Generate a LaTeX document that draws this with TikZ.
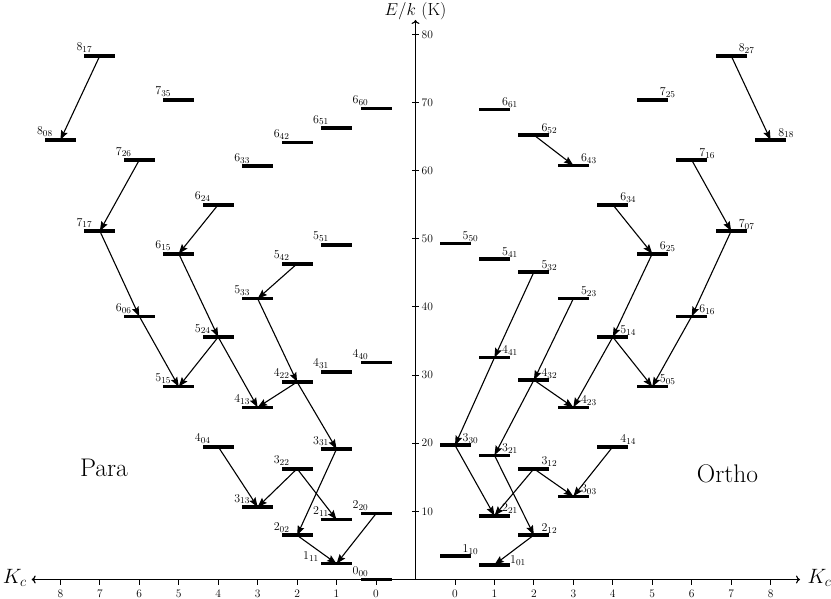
\documentclass[tikz,border=0pt]{standalone}
\usetikzlibrary{arrows.meta}
\DeclareMathSizes{12}{12}{9}{7}
\tikzset{
  bar/.style={draw=none, fill=black, minimum width=31pt, minimum height=3.6pt, inner sep=0pt, outer sep=0pt},
  lab/.style={anchor=base, inner sep=0pt, font=\fontsize{12}{14}\selectfont},
  trans/.style={line width=1.1pt, -{Stealth[length=9.5pt,width=7pt,inset=1.5pt]}},
  axis/.style={line width=1.2pt},
  axtip/.style={axis, -{To[length=4pt,width=8pt]}},
  tick/.style={line width=1pt},
  ticklab/.style={inner sep=0pt, font=\fontsize{11.5}{13}\selectfont},
}
% left (para) level: name, Kc, E, label
\newcommand\levL[4]{%
  \node[bar] (#1) at ({376-39.45*#2},{579.5-6.813*#3}) {};
  \node[lab] (#1l) at ([yshift=5pt]#1.west) {$#4$};}
% right (ortho) level
\newcommand\levR[4]{%
  \node[bar] (#1) at ({455+39.45*#2},{579.5-6.813*#3}) {};
  \node[lab] (#1l) at ([yshift=3.8pt]#1.east) {$#4$};}
\begin{document}
\begin{tikzpicture}[x=1pt,y=-1pt]
\useasboundingbox (0,0) rectangle (831,599);
% axes
\coordinate (O) at (415.5,579.5);
\coordinate (ytip) at (415.5,20);
\coordinate (xl) at (31.7,579.5);
\coordinate (xr) at (800,579.5);
\draw[axtip] (O) -- (ytip);
\draw[axis, {To[length=4pt,width=8pt]}-{To[length=4pt,width=8pt]}] (xl) -- (xr);
\node[anchor=base, font=\fontsize{17.5}{20}\selectfont] (elab) at (415.5,15.7) {$E/k$ (K)};
\node[anchor=base west, inner sep=0pt, font=\fontsize{19.5}{22}\selectfont] (kcl) at (2.7,583.3) {$K_c$};
\node[anchor=base west, inner sep=0pt, font=\fontsize{19.5}{22}\selectfont] (kcr) at (807.3,583.3) {$K_c$};
% energy ticks
\foreach \k in {1,...,8}{
  \coordinate (ea\k) at (412.2,{579.5-68.13*\k});
  \coordinate (eb\k) at (418.8,{579.5-68.13*\k});
  \draw[tick] (ea\k) -- (eb\k);
  \node[ticklab, anchor=west] (et\k) at (421.5,{579.5-68.13*\k}) {\the\numexpr\k*10\relax};
}
% Kc ticks
\foreach \k in {0,...,8}{
  \coordinate (la\k) at ({376-39.45*\k},579.5);
  \coordinate (lb\k) at ({376-39.45*\k},585);
  \draw[tick] (la\k) -- (lb\k);
  \node[ticklab, anchor=north] (lt\k) at ({376-39.45*\k},589.5) {\k};
  \coordinate (ra\k) at ({455+39.45*\k},579.5);
  \coordinate (rb\k) at ({455+39.45*\k},585);
  \draw[tick] (ra\k) -- (rb\k);
  \node[ticklab, anchor=north] (rt\k) at ({455+39.45*\k},589.5) {\k};
}
% para levels
\levL{p000}{0}{0}{0_{00}}
\node[bar] (p111) at ({376-39.45*1},{579.5-6.813*2.32}) {};
\node[lab] (p111l) at ([xshift=-10pt,yshift=3.7pt]p111.west) {$1_{11}$};
\levL{p202}{2}{6.49}{2_{02}}
\levL{p211}{1}{8.78}{2_{11}}
\levL{p220}{0}{9.66}{2_{20}}
\levL{p313}{3}{10.64}{3_{13}}
\levL{p322}{2}{16.26}{3_{22}}
\levL{p331}{1}{19.15}{3_{31}}
\levL{p404}{4}{19.49}{4_{04}}
\levL{p413}{3}{25.27}{4_{13}}
\levL{p422}{2}{28.99}{4_{22}}
\levL{p431}{1}{30.46}{4_{31}}
\levL{p440}{0}{31.88}{4_{40}}
\levL{p515}{5}{28.30}{5_{15}}
\levL{p524}{4}{35.59}{5_{24}}
\levL{p533}{3}{41.22}{5_{33}}
\levL{p542}{2}{46.35}{5_{42}}
\levL{p551}{1}{49.10}{5_{51}}
\levL{p606}{6}{38.63}{6_{06}}
\levL{p615}{5}{47.82}{6_{15}}
\levL{p624}{4}{55.01}{6_{24}}
\levL{p633}{3}{60.65}{6_{33}}
\levL{p642}{2}{64.17}{6_{42}}
\levL{p651}{1}{66.27}{6_{51}}
\levL{p660}{0}{69.16}{6_{60}}
\levL{p717}{7}{51.15}{7_{17}}
\levL{p726}{6}{61.57}{7_{26}}
\levL{p735}{5}{70.42}{7_{35}}
\levL{p808}{8}{64.51}{8_{08}}
\levL{p817}{7}{76.88}{8_{17}}
% ortho levels
\node[bar] (o101) at ({455+39.45*1},{579.5-6.813*2.17}) {};
\node[lab, anchor=base west] (o101l) at ([yshift=1.4pt]o101.east) {$1_{01}$};
\levR{o110}{0}{3.41}{1_{10}}
\levR{o212}{2}{6.53}{2_{12}}
\levR{o221}{1}{9.36}{2_{21}}
\levR{o303}{3}{12.21}{3_{03}}
\levR{o312}{2}{16.26}{3_{12}}
\levR{o321}{1}{18.23}{3_{21}}
\levR{o330}{0}{19.70}{3_{30}}
\levR{o414}{4}{19.49}{4_{14}}
\levR{o423}{3}{25.27}{4_{23}}
\levR{o432}{2}{29.28}{4_{32}}
\levR{o441}{1}{32.56}{4_{41}}
\levR{o505}{5}{28.30}{5_{05}}
\levR{o514}{4}{35.59}{5_{14}}
\levR{o523}{3}{41.22}{5_{23}}
\levR{o532}{2}{45.13}{5_{32}}
\levR{o541}{1}{47.04}{5_{41}}
\levR{o550}{0}{49.29}{5_{50}}
\levR{o616}{6}{38.63}{6_{16}}
\levR{o625}{5}{47.82}{6_{25}}
\levR{o634}{4}{55.01}{6_{34}}
\levR{o643}{3}{60.79}{6_{43}}
\levR{o652}{2}{65.24}{6_{52}}
\levR{o661}{1}{69.01}{6_{61}}
\levR{o707}{7}{51.15}{7_{07}}
\levR{o716}{6}{61.57}{7_{16}}
\levR{o725}{5}{70.42}{7_{25}}
\levR{o818}{8}{64.51}{8_{18}}
\levR{o827}{7}{76.88}{8_{27}}
% transitions
\foreach \a/\b in {p817/p808, p726/p717, p624/p615, p717/p606, p606/p515,
  p615/p524, p524/p515, p524/p413, p542/p533, p533/p422, p422/p413, p422/p331,
  p404/p313, p322/p313, p322/p211, p331/p202, p202/p111, p220/p111,
  o827/o818, o652/o643, o716/o707, o634/o625, o707/o616, o616/o505,
  o625/o514, o514/o505, o514/o423, o532/o441, o441/o330, o523/o432,
  o432/o423, o432/o321, o330/o221, o321/o212, o312/o221, o312/o303,
  o414/o303, o212/o101}
  \draw[trans] (\a.center) -- (\b.center);
% titles
\node[anchor=base, font=\fontsize{25.5}{30}\selectfont] (para) at (104,476) {Para};
\node[anchor=base, font=\fontsize{25.5}{30}\selectfont] (ortho) at (727.5,482.3) {Ortho};
\end{tikzpicture}
\end{document}
